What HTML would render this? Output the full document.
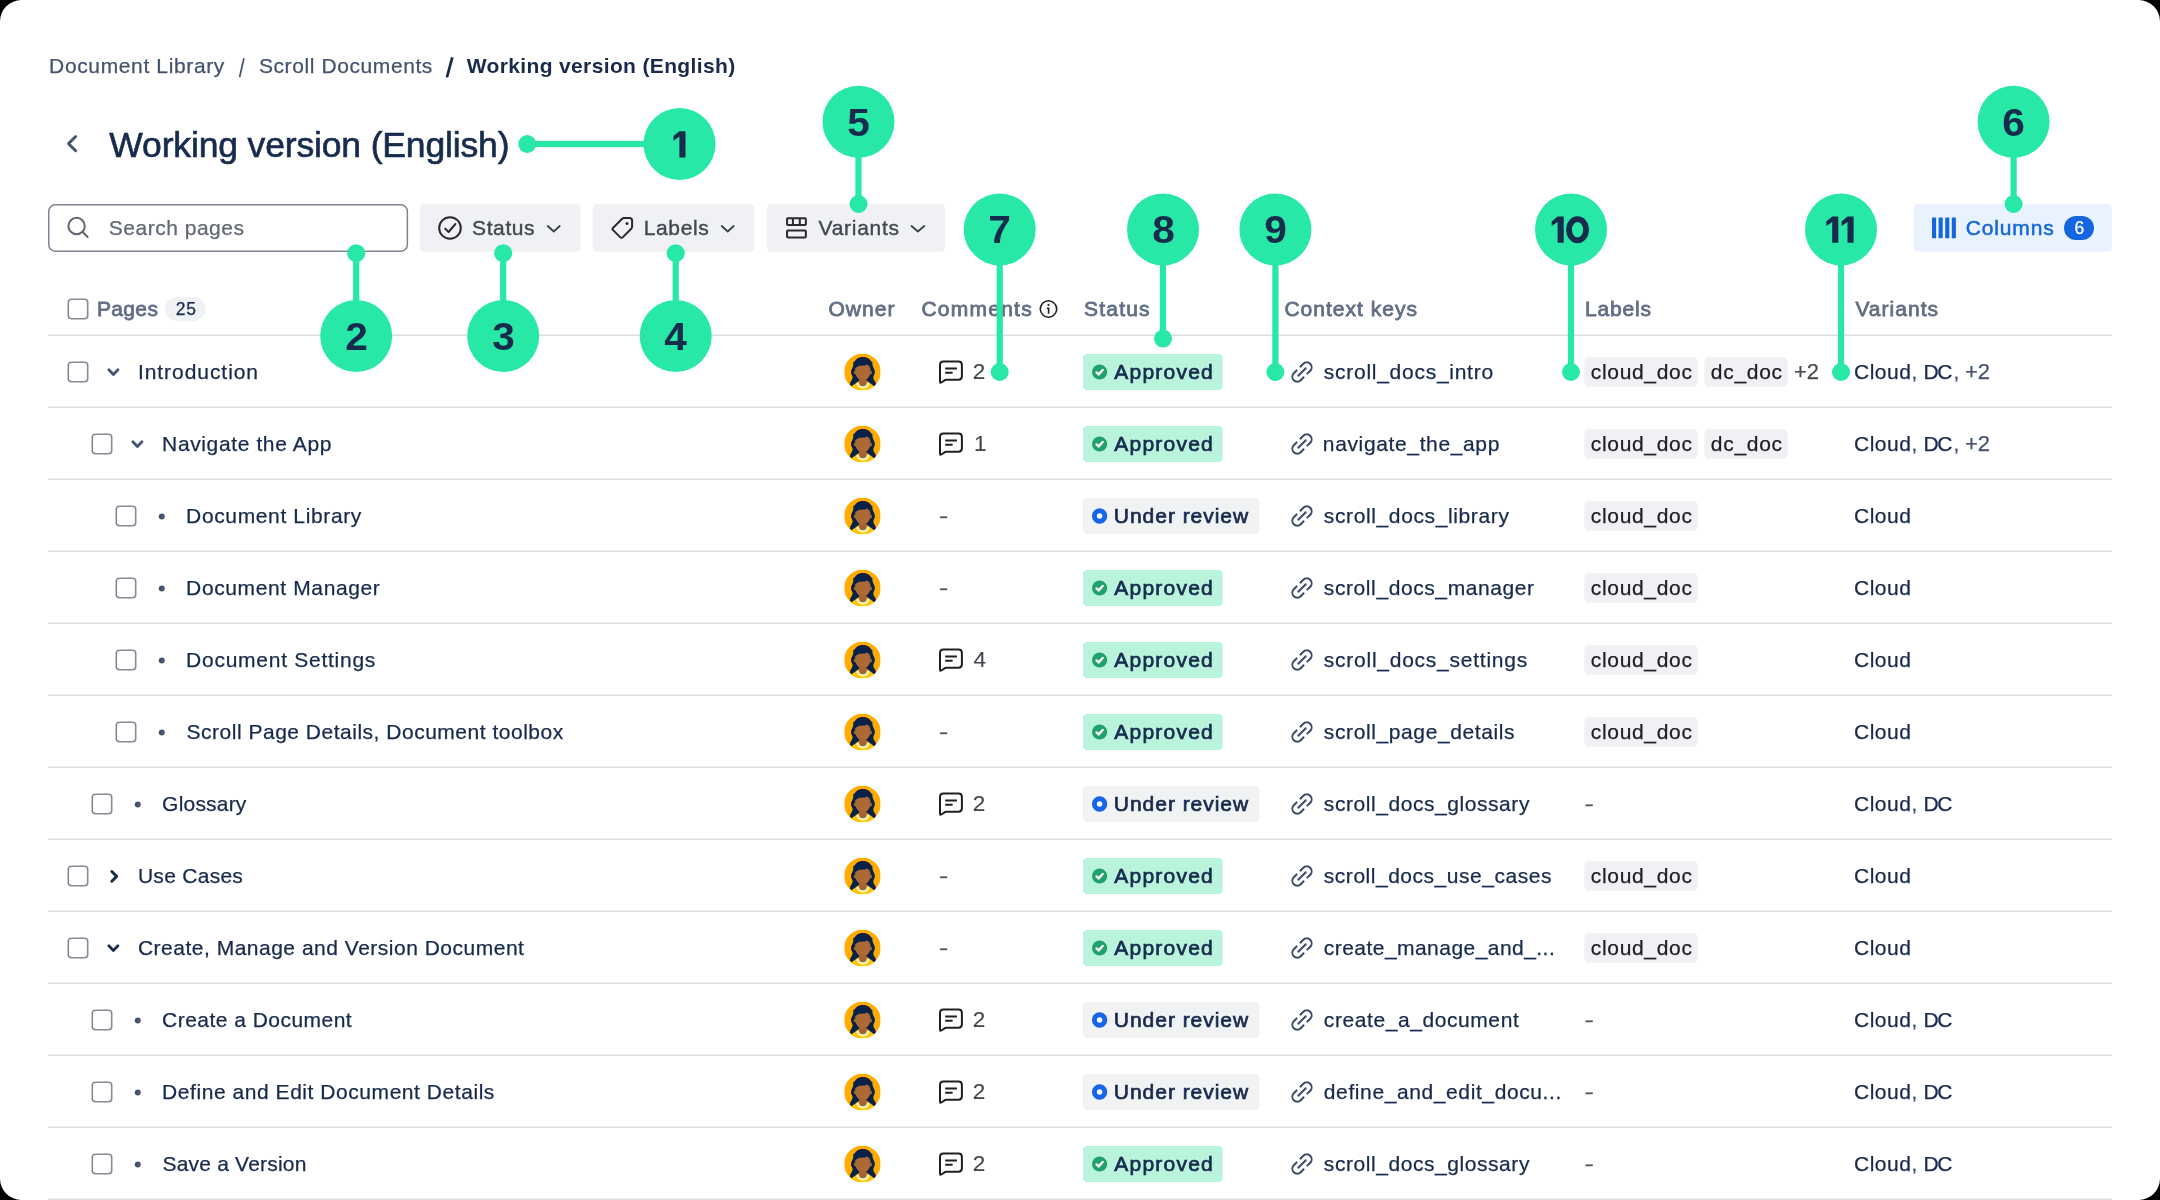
<!DOCTYPE html>
<html><head><meta charset="utf-8"><title>Working version (English)</title><style>
html,body{margin:0;padding:0;background:#000;}
body{width:2160px;height:1200px;overflow:hidden;position:relative;font-family:"Liberation Sans", sans-serif;}
#page{position:absolute;left:0;top:0;width:2160px;height:1200px;background:#fff;border-radius:21.5px;overflow:hidden;will-change:transform;}
svg.layer{position:absolute;left:0;top:0;}
.t{position:absolute;white-space:pre;font-family:"Liberation Sans", sans-serif;}
</style></head><body><div id="page">
<svg class="layer" width="2160" height="1200" viewBox="0 0 2160 1200">
<path d="M243.9 58.2 L239.6 77.2" stroke="#44546F" stroke-width="1.7" fill="none"/>
<path d="M452.3 57.4 L446.9 77.3" stroke="#172B4D" stroke-width="2.7" fill="none"/>
<path d="M75.6 136.5 L68.5 143.6 L75.6 150.7" fill="none" stroke="#44546F" stroke-width="2.9" stroke-linecap="round" stroke-linejoin="round"/>
<rect x="48.75" y="204.85" width="358.6" height="46.3" rx="6.5" fill="#fff" stroke="#7F8594" stroke-width="1.5"/>
<circle cx="76.6" cy="226" r="8.2" fill="none" stroke="#626873" stroke-width="2"/>
<path d="M82.6 232 L87.6 237" stroke="#626873" stroke-width="2" stroke-linecap="round"/>
<rect x="420.2" y="204.1" width="160.3" height="47.6" rx="4.5" fill="#F0F1F4"/>
<g transform="translate(436 214)"><circle cx="14" cy="14" r="10.8" fill="none" stroke="#292A2E" stroke-width="2"/><path d="M9.2 14.6 L12.6 18 L19.4 10" fill="none" stroke="#292A2E" stroke-width="2" stroke-linecap="round" stroke-linejoin="round"/></g>
<path d="M547.8 226 L553.75 231.5 L559.7 226" fill="none" stroke="#3A3D44" stroke-width="1.75" stroke-linecap="round" stroke-linejoin="round"/>
<rect x="592.7" y="204.1" width="161.6" height="47.6" rx="4.5" fill="#F0F1F4"/>
<path d="M612.9 228 L621.9 219 Q622.8 218.1 624.1 218.1 L629.6 218.1 Q632.1 218.1 632.1 220.6 L632.1 226.6 Q632.1 227.9 631.2 228.8 L622.9 237.1 Q621.5 238.5 620.1 237.1 L612.9 229.9 Q611.9 229 612.9 228 Z" fill="none" stroke="#292A2E" stroke-width="2" stroke-linejoin="round"/><circle cx="627" cy="223.4" r="1.5" fill="#292A2E"/>
<path d="M721.7 226 L727.7 231.5 L733.7 226" fill="none" stroke="#3A3D44" stroke-width="1.75" stroke-linecap="round" stroke-linejoin="round"/>
<rect x="766.7" y="204.1" width="178.3" height="47.6" rx="4.5" fill="#F0F1F4"/>
<g fill="none" stroke="#292A2E" stroke-width="2" stroke-linejoin="round"><rect x="787.06" y="218.25" width="18.8" height="6.8" rx="0.8"/><rect x="787.06" y="230.6" width="18.8" height="6.8" rx="0.8"/><path d="M792.9 218.25 V225.05 M799.8 218.25 V225.05"/></g>
<path d="M911.5 226 L917.9 231.5 L924.3 226" fill="none" stroke="#3A3D44" stroke-width="1.75" stroke-linecap="round" stroke-linejoin="round"/>
<rect x="1914.1" y="204.1" width="197.8" height="47.6" rx="4.5" fill="#E9F2FF"/>
<rect x="1932" y="217.6" width="4.1" height="20.7" rx="0.6" fill="#1465DF"/>
<rect x="1938.6" y="217.6" width="4.1" height="20.7" rx="0.6" fill="#1465DF"/>
<rect x="1945.2" y="217.6" width="4.1" height="20.7" rx="0.6" fill="#1465DF"/>
<rect x="1951.8" y="217.6" width="4.1" height="20.7" rx="0.6" fill="#1465DF"/>
<rect x="2064" y="216" width="30" height="24" rx="12" fill="#1465DF"/>
<rect x="68.3" y="299.3" width="19.4" height="19.4" rx="3.2" fill="#fff" stroke="#858A97" stroke-width="1.6"/>
<rect x="165" y="297.1" width="40.4" height="23.8" rx="11.9" fill="#F0F1F4"/>
<circle cx="1048.5" cy="309" r="8.2" fill="none" stroke="#1E1F21" stroke-width="1.6"/>
<circle cx="1048.5" cy="304.9" r="1.1" fill="#1E1F21"/>
<path d="M1046.9 308.3 H1048.6 V313.8" fill="none" stroke="#1E1F21" stroke-width="1.6"/>
<rect x="48" y="334" width="2064" height="1" fill="#ECEEF2"/>
<rect x="48" y="335" width="2064" height="1" fill="#DCDFE4"/>
<rect x="68.3" y="362.3" width="19.4" height="19.4" rx="3.2" fill="#fff" stroke="#858A97" stroke-width="1.6"/>
<path d="M108.85 369.7 L113.4 374.5 L117.95 369.7" fill="none" stroke="#44546F" stroke-width="2.7" stroke-linecap="round" stroke-linejoin="round"/>
<svg x="844.2" y="353.7" width="36.5" height="36.5" viewBox="0 0 36 36"><defs><clipPath id="c0"><circle cx="18" cy="18" r="18.1"/></clipPath></defs><g clip-path="url(#c0)"><rect width="36" height="36" fill="#FFAB00"/><path d="M4.5 36 C5.5 31.5 10.5 29.8 14 29.2 L23 29.2 C26.5 29.8 31.5 31.5 32.5 36 Z" fill="#FFC400"/><path d="M11.8 28.6 C12 32.4 15 34.3 18.5 34.3 C22 34.3 25 32.4 25.2 28.6 Z" fill="#FFF0B3"/><path d="M18.5 3.2 C23 3.2 26.7 5.8 27.2 9.4 C27.7 12.5 30.3 15 30.3 18.6 C30.3 20.5 28.7 21.8 28.7 23.2 C28.7 26 31.6 27.6 31.2 30.3 L29.9 32.3 C27.5 30 24.5 28.6 22.4 26.6 L14.6 26.6 C12.5 28.6 9.5 30 7.1 32.3 L5.8 30.3 C5.4 27.6 8.3 26 8.3 23.2 C8.3 21.8 6.7 20.5 6.7 18.6 C6.7 15 9.3 12.5 9.8 9.4 C10.3 5.8 14 3.2 18.5 3.2 Z" fill="#0A2147"/><path d="M14.9 23 L22 23 L22.2 28.6 C22.2 31 20.6 32.1 18.45 32.1 C16.3 32.1 14.7 31 14.7 28.6 Z" fill="#A0612F"/><ellipse cx="10.4" cy="18.8" rx="0.9" ry="1.4" fill="#B5712F"/><ellipse cx="26.5" cy="18.8" rx="0.9" ry="1.4" fill="#B5712F"/><path d="M10.7 15 C10.7 12 13 9.5 18.4 9.5 C23.7 9.5 26.1 12 26.1 15 L26.1 18 C26.1 20.6 23.4 26.3 18.4 26.3 C13.4 26.3 10.7 20.6 10.7 18 Z" fill="#AC6835"/><path d="M9 16.2 L10.7 14.9 C12 13.5 13.5 12.4 14.9 12 C17 11.5 19.5 11.8 21.4 11.3 L22.4 10.3 C24 11.5 25.6 13.5 26.1 15.4 L27.8 16.2 L27.8 8 L9 8 Z" fill="#0A2147"/></g></svg>
<g transform="translate(937 359.7)"><path d="M6.4 1.8 H21.5 Q24.9 1.8 24.9 5.2 V16.6 Q24.9 20 21.5 20 H9.4 Q8.6 20 8 20.4 L4.3 22.8 Q3 23.6 3 22.2 V5.2 Q3 1.8 6.4 1.8 Z" fill="none" stroke="#1E1F21" stroke-width="2" stroke-linejoin="round"/><path d="M8.2 8.7 H19.9 M8.2 13 H15.6" stroke="#1E1F21" stroke-width="2" fill="none"/></g>
<rect x="1083.05" y="353.95" width="139.55" height="36" rx="4.2" fill="#BAF3DB"/>
<circle cx="1099.6" cy="372" r="7.6" fill="#22A06B"/>
<path d="M1096.5 372.4 L1098.6 374.4 L1102.7 370" fill="none" stroke="#fff" stroke-width="2.3" stroke-linecap="round" stroke-linejoin="round"/>
<g transform="translate(1302 372)"><g transform="rotate(-45)" fill="none" stroke="#3B4A66" stroke-width="2"><path d="M-1.9 -4.9 H-6.7 A4.9 4.9 0 0 0 -6.7 4.9 H-1.9 M1.9 -4.9 H6.7 A4.9 4.9 0 0 1 6.7 4.9 H1.9 M-6 0 H6"/></g></g>
<rect x="1584.3" y="357" width="113.4" height="29.8" rx="4.5" fill="#F0F1F4"/>
<rect x="1704.3" y="357" width="83.4" height="29.8" rx="4.5" fill="#F0F1F4"/>
<rect x="48" y="406" width="2064" height="1" fill="#ECEEF2"/>
<rect x="48" y="407" width="2064" height="1" fill="#DCDFE4"/>
<rect x="92.3" y="434.3" width="19.4" height="19.4" rx="3.2" fill="#fff" stroke="#858A97" stroke-width="1.6"/>
<path d="M132.85 441.7 L137.4 446.5 L141.95 441.7" fill="none" stroke="#44546F" stroke-width="2.7" stroke-linecap="round" stroke-linejoin="round"/>
<svg x="844.2" y="425.7" width="36.5" height="36.5" viewBox="0 0 36 36"><defs><clipPath id="c1"><circle cx="18" cy="18" r="18.1"/></clipPath></defs><g clip-path="url(#c1)"><rect width="36" height="36" fill="#FFAB00"/><path d="M4.5 36 C5.5 31.5 10.5 29.8 14 29.2 L23 29.2 C26.5 29.8 31.5 31.5 32.5 36 Z" fill="#FFC400"/><path d="M11.8 28.6 C12 32.4 15 34.3 18.5 34.3 C22 34.3 25 32.4 25.2 28.6 Z" fill="#FFF0B3"/><path d="M18.5 3.2 C23 3.2 26.7 5.8 27.2 9.4 C27.7 12.5 30.3 15 30.3 18.6 C30.3 20.5 28.7 21.8 28.7 23.2 C28.7 26 31.6 27.6 31.2 30.3 L29.9 32.3 C27.5 30 24.5 28.6 22.4 26.6 L14.6 26.6 C12.5 28.6 9.5 30 7.1 32.3 L5.8 30.3 C5.4 27.6 8.3 26 8.3 23.2 C8.3 21.8 6.7 20.5 6.7 18.6 C6.7 15 9.3 12.5 9.8 9.4 C10.3 5.8 14 3.2 18.5 3.2 Z" fill="#0A2147"/><path d="M14.9 23 L22 23 L22.2 28.6 C22.2 31 20.6 32.1 18.45 32.1 C16.3 32.1 14.7 31 14.7 28.6 Z" fill="#A0612F"/><ellipse cx="10.4" cy="18.8" rx="0.9" ry="1.4" fill="#B5712F"/><ellipse cx="26.5" cy="18.8" rx="0.9" ry="1.4" fill="#B5712F"/><path d="M10.7 15 C10.7 12 13 9.5 18.4 9.5 C23.7 9.5 26.1 12 26.1 15 L26.1 18 C26.1 20.6 23.4 26.3 18.4 26.3 C13.4 26.3 10.7 20.6 10.7 18 Z" fill="#AC6835"/><path d="M9 16.2 L10.7 14.9 C12 13.5 13.5 12.4 14.9 12 C17 11.5 19.5 11.8 21.4 11.3 L22.4 10.3 C24 11.5 25.6 13.5 26.1 15.4 L27.8 16.2 L27.8 8 L9 8 Z" fill="#0A2147"/></g></svg>
<g transform="translate(937 431.7)"><path d="M6.4 1.8 H21.5 Q24.9 1.8 24.9 5.2 V16.6 Q24.9 20 21.5 20 H9.4 Q8.6 20 8 20.4 L4.3 22.8 Q3 23.6 3 22.2 V5.2 Q3 1.8 6.4 1.8 Z" fill="none" stroke="#1E1F21" stroke-width="2" stroke-linejoin="round"/><path d="M8.2 8.7 H19.9 M8.2 13 H15.6" stroke="#1E1F21" stroke-width="2" fill="none"/></g>
<rect x="1083.05" y="425.95" width="139.55" height="36" rx="4.2" fill="#BAF3DB"/>
<circle cx="1099.6" cy="444" r="7.6" fill="#22A06B"/>
<path d="M1096.5 444.4 L1098.6 446.4 L1102.7 442" fill="none" stroke="#fff" stroke-width="2.3" stroke-linecap="round" stroke-linejoin="round"/>
<g transform="translate(1302 444)"><g transform="rotate(-45)" fill="none" stroke="#3B4A66" stroke-width="2"><path d="M-1.9 -4.9 H-6.7 A4.9 4.9 0 0 0 -6.7 4.9 H-1.9 M1.9 -4.9 H6.7 A4.9 4.9 0 0 1 6.7 4.9 H1.9 M-6 0 H6"/></g></g>
<rect x="1584.3" y="429" width="113.4" height="29.8" rx="4.5" fill="#F0F1F4"/>
<rect x="1704.3" y="429" width="83.4" height="29.8" rx="4.5" fill="#F0F1F4"/>
<rect x="48" y="478" width="2064" height="1" fill="#ECEEF2"/>
<rect x="48" y="479" width="2064" height="1" fill="#DCDFE4"/>
<rect x="116.3" y="506.3" width="19.4" height="19.4" rx="3.2" fill="#fff" stroke="#858A97" stroke-width="1.6"/>
<circle cx="161.75" cy="516.5" r="3" fill="#44546F"/>
<svg x="844.2" y="497.7" width="36.5" height="36.5" viewBox="0 0 36 36"><defs><clipPath id="c2"><circle cx="18" cy="18" r="18.1"/></clipPath></defs><g clip-path="url(#c2)"><rect width="36" height="36" fill="#FFAB00"/><path d="M4.5 36 C5.5 31.5 10.5 29.8 14 29.2 L23 29.2 C26.5 29.8 31.5 31.5 32.5 36 Z" fill="#FFC400"/><path d="M11.8 28.6 C12 32.4 15 34.3 18.5 34.3 C22 34.3 25 32.4 25.2 28.6 Z" fill="#FFF0B3"/><path d="M18.5 3.2 C23 3.2 26.7 5.8 27.2 9.4 C27.7 12.5 30.3 15 30.3 18.6 C30.3 20.5 28.7 21.8 28.7 23.2 C28.7 26 31.6 27.6 31.2 30.3 L29.9 32.3 C27.5 30 24.5 28.6 22.4 26.6 L14.6 26.6 C12.5 28.6 9.5 30 7.1 32.3 L5.8 30.3 C5.4 27.6 8.3 26 8.3 23.2 C8.3 21.8 6.7 20.5 6.7 18.6 C6.7 15 9.3 12.5 9.8 9.4 C10.3 5.8 14 3.2 18.5 3.2 Z" fill="#0A2147"/><path d="M14.9 23 L22 23 L22.2 28.6 C22.2 31 20.6 32.1 18.45 32.1 C16.3 32.1 14.7 31 14.7 28.6 Z" fill="#A0612F"/><ellipse cx="10.4" cy="18.8" rx="0.9" ry="1.4" fill="#B5712F"/><ellipse cx="26.5" cy="18.8" rx="0.9" ry="1.4" fill="#B5712F"/><path d="M10.7 15 C10.7 12 13 9.5 18.4 9.5 C23.7 9.5 26.1 12 26.1 15 L26.1 18 C26.1 20.6 23.4 26.3 18.4 26.3 C13.4 26.3 10.7 20.6 10.7 18 Z" fill="#AC6835"/><path d="M9 16.2 L10.7 14.9 C12 13.5 13.5 12.4 14.9 12 C17 11.5 19.5 11.8 21.4 11.3 L22.4 10.3 C24 11.5 25.6 13.5 26.1 15.4 L27.8 16.2 L27.8 8 L9 8 Z" fill="#0A2147"/></g></svg>
<rect x="940" y="516.4" width="7.3" height="1.8" fill="#505359"/>
<rect x="1083.05" y="497.95" width="176.55" height="36" rx="4.2" fill="#F1F2F4"/>
<circle cx="1099.6" cy="516" r="5.2" fill="#fff" stroke="#1565E6" stroke-width="4.9"/>
<g transform="translate(1302 516)"><g transform="rotate(-45)" fill="none" stroke="#3B4A66" stroke-width="2"><path d="M-1.9 -4.9 H-6.7 A4.9 4.9 0 0 0 -6.7 4.9 H-1.9 M1.9 -4.9 H6.7 A4.9 4.9 0 0 1 6.7 4.9 H1.9 M-6 0 H6"/></g></g>
<rect x="1584.3" y="501" width="113.4" height="29.8" rx="4.5" fill="#F0F1F4"/>
<rect x="48" y="550" width="2064" height="1" fill="#ECEEF2"/>
<rect x="48" y="551" width="2064" height="1" fill="#DCDFE4"/>
<rect x="116.3" y="578.3" width="19.4" height="19.4" rx="3.2" fill="#fff" stroke="#858A97" stroke-width="1.6"/>
<circle cx="161.75" cy="588.5" r="3" fill="#44546F"/>
<svg x="844.2" y="569.7" width="36.5" height="36.5" viewBox="0 0 36 36"><defs><clipPath id="c3"><circle cx="18" cy="18" r="18.1"/></clipPath></defs><g clip-path="url(#c3)"><rect width="36" height="36" fill="#FFAB00"/><path d="M4.5 36 C5.5 31.5 10.5 29.8 14 29.2 L23 29.2 C26.5 29.8 31.5 31.5 32.5 36 Z" fill="#FFC400"/><path d="M11.8 28.6 C12 32.4 15 34.3 18.5 34.3 C22 34.3 25 32.4 25.2 28.6 Z" fill="#FFF0B3"/><path d="M18.5 3.2 C23 3.2 26.7 5.8 27.2 9.4 C27.7 12.5 30.3 15 30.3 18.6 C30.3 20.5 28.7 21.8 28.7 23.2 C28.7 26 31.6 27.6 31.2 30.3 L29.9 32.3 C27.5 30 24.5 28.6 22.4 26.6 L14.6 26.6 C12.5 28.6 9.5 30 7.1 32.3 L5.8 30.3 C5.4 27.6 8.3 26 8.3 23.2 C8.3 21.8 6.7 20.5 6.7 18.6 C6.7 15 9.3 12.5 9.8 9.4 C10.3 5.8 14 3.2 18.5 3.2 Z" fill="#0A2147"/><path d="M14.9 23 L22 23 L22.2 28.6 C22.2 31 20.6 32.1 18.45 32.1 C16.3 32.1 14.7 31 14.7 28.6 Z" fill="#A0612F"/><ellipse cx="10.4" cy="18.8" rx="0.9" ry="1.4" fill="#B5712F"/><ellipse cx="26.5" cy="18.8" rx="0.9" ry="1.4" fill="#B5712F"/><path d="M10.7 15 C10.7 12 13 9.5 18.4 9.5 C23.7 9.5 26.1 12 26.1 15 L26.1 18 C26.1 20.6 23.4 26.3 18.4 26.3 C13.4 26.3 10.7 20.6 10.7 18 Z" fill="#AC6835"/><path d="M9 16.2 L10.7 14.9 C12 13.5 13.5 12.4 14.9 12 C17 11.5 19.5 11.8 21.4 11.3 L22.4 10.3 C24 11.5 25.6 13.5 26.1 15.4 L27.8 16.2 L27.8 8 L9 8 Z" fill="#0A2147"/></g></svg>
<rect x="940" y="588.4" width="7.3" height="1.8" fill="#505359"/>
<rect x="1083.05" y="569.95" width="139.55" height="36" rx="4.2" fill="#BAF3DB"/>
<circle cx="1099.6" cy="588" r="7.6" fill="#22A06B"/>
<path d="M1096.5 588.4 L1098.6 590.4 L1102.7 586" fill="none" stroke="#fff" stroke-width="2.3" stroke-linecap="round" stroke-linejoin="round"/>
<g transform="translate(1302 588)"><g transform="rotate(-45)" fill="none" stroke="#3B4A66" stroke-width="2"><path d="M-1.9 -4.9 H-6.7 A4.9 4.9 0 0 0 -6.7 4.9 H-1.9 M1.9 -4.9 H6.7 A4.9 4.9 0 0 1 6.7 4.9 H1.9 M-6 0 H6"/></g></g>
<rect x="1584.3" y="573" width="113.4" height="29.8" rx="4.5" fill="#F0F1F4"/>
<rect x="48" y="622" width="2064" height="1" fill="#ECEEF2"/>
<rect x="48" y="623" width="2064" height="1" fill="#DCDFE4"/>
<rect x="116.3" y="650.3" width="19.4" height="19.4" rx="3.2" fill="#fff" stroke="#858A97" stroke-width="1.6"/>
<circle cx="161.75" cy="660.5" r="3" fill="#44546F"/>
<svg x="844.2" y="641.7" width="36.5" height="36.5" viewBox="0 0 36 36"><defs><clipPath id="c4"><circle cx="18" cy="18" r="18.1"/></clipPath></defs><g clip-path="url(#c4)"><rect width="36" height="36" fill="#FFAB00"/><path d="M4.5 36 C5.5 31.5 10.5 29.8 14 29.2 L23 29.2 C26.5 29.8 31.5 31.5 32.5 36 Z" fill="#FFC400"/><path d="M11.8 28.6 C12 32.4 15 34.3 18.5 34.3 C22 34.3 25 32.4 25.2 28.6 Z" fill="#FFF0B3"/><path d="M18.5 3.2 C23 3.2 26.7 5.8 27.2 9.4 C27.7 12.5 30.3 15 30.3 18.6 C30.3 20.5 28.7 21.8 28.7 23.2 C28.7 26 31.6 27.6 31.2 30.3 L29.9 32.3 C27.5 30 24.5 28.6 22.4 26.6 L14.6 26.6 C12.5 28.6 9.5 30 7.1 32.3 L5.8 30.3 C5.4 27.6 8.3 26 8.3 23.2 C8.3 21.8 6.7 20.5 6.7 18.6 C6.7 15 9.3 12.5 9.8 9.4 C10.3 5.8 14 3.2 18.5 3.2 Z" fill="#0A2147"/><path d="M14.9 23 L22 23 L22.2 28.6 C22.2 31 20.6 32.1 18.45 32.1 C16.3 32.1 14.7 31 14.7 28.6 Z" fill="#A0612F"/><ellipse cx="10.4" cy="18.8" rx="0.9" ry="1.4" fill="#B5712F"/><ellipse cx="26.5" cy="18.8" rx="0.9" ry="1.4" fill="#B5712F"/><path d="M10.7 15 C10.7 12 13 9.5 18.4 9.5 C23.7 9.5 26.1 12 26.1 15 L26.1 18 C26.1 20.6 23.4 26.3 18.4 26.3 C13.4 26.3 10.7 20.6 10.7 18 Z" fill="#AC6835"/><path d="M9 16.2 L10.7 14.9 C12 13.5 13.5 12.4 14.9 12 C17 11.5 19.5 11.8 21.4 11.3 L22.4 10.3 C24 11.5 25.6 13.5 26.1 15.4 L27.8 16.2 L27.8 8 L9 8 Z" fill="#0A2147"/></g></svg>
<g transform="translate(937 647.7)"><path d="M6.4 1.8 H21.5 Q24.9 1.8 24.9 5.2 V16.6 Q24.9 20 21.5 20 H9.4 Q8.6 20 8 20.4 L4.3 22.8 Q3 23.6 3 22.2 V5.2 Q3 1.8 6.4 1.8 Z" fill="none" stroke="#1E1F21" stroke-width="2" stroke-linejoin="round"/><path d="M8.2 8.7 H19.9 M8.2 13 H15.6" stroke="#1E1F21" stroke-width="2" fill="none"/></g>
<rect x="1083.05" y="641.95" width="139.55" height="36" rx="4.2" fill="#BAF3DB"/>
<circle cx="1099.6" cy="660" r="7.6" fill="#22A06B"/>
<path d="M1096.5 660.4 L1098.6 662.4 L1102.7 658" fill="none" stroke="#fff" stroke-width="2.3" stroke-linecap="round" stroke-linejoin="round"/>
<g transform="translate(1302 660)"><g transform="rotate(-45)" fill="none" stroke="#3B4A66" stroke-width="2"><path d="M-1.9 -4.9 H-6.7 A4.9 4.9 0 0 0 -6.7 4.9 H-1.9 M1.9 -4.9 H6.7 A4.9 4.9 0 0 1 6.7 4.9 H1.9 M-6 0 H6"/></g></g>
<rect x="1584.3" y="645" width="113.4" height="29.8" rx="4.5" fill="#F0F1F4"/>
<rect x="48" y="694" width="2064" height="1" fill="#ECEEF2"/>
<rect x="48" y="695" width="2064" height="1" fill="#DCDFE4"/>
<rect x="116.3" y="722.3" width="19.4" height="19.4" rx="3.2" fill="#fff" stroke="#858A97" stroke-width="1.6"/>
<circle cx="161.75" cy="732.5" r="3" fill="#44546F"/>
<svg x="844.2" y="713.7" width="36.5" height="36.5" viewBox="0 0 36 36"><defs><clipPath id="c5"><circle cx="18" cy="18" r="18.1"/></clipPath></defs><g clip-path="url(#c5)"><rect width="36" height="36" fill="#FFAB00"/><path d="M4.5 36 C5.5 31.5 10.5 29.8 14 29.2 L23 29.2 C26.5 29.8 31.5 31.5 32.5 36 Z" fill="#FFC400"/><path d="M11.8 28.6 C12 32.4 15 34.3 18.5 34.3 C22 34.3 25 32.4 25.2 28.6 Z" fill="#FFF0B3"/><path d="M18.5 3.2 C23 3.2 26.7 5.8 27.2 9.4 C27.7 12.5 30.3 15 30.3 18.6 C30.3 20.5 28.7 21.8 28.7 23.2 C28.7 26 31.6 27.6 31.2 30.3 L29.9 32.3 C27.5 30 24.5 28.6 22.4 26.6 L14.6 26.6 C12.5 28.6 9.5 30 7.1 32.3 L5.8 30.3 C5.4 27.6 8.3 26 8.3 23.2 C8.3 21.8 6.7 20.5 6.7 18.6 C6.7 15 9.3 12.5 9.8 9.4 C10.3 5.8 14 3.2 18.5 3.2 Z" fill="#0A2147"/><path d="M14.9 23 L22 23 L22.2 28.6 C22.2 31 20.6 32.1 18.45 32.1 C16.3 32.1 14.7 31 14.7 28.6 Z" fill="#A0612F"/><ellipse cx="10.4" cy="18.8" rx="0.9" ry="1.4" fill="#B5712F"/><ellipse cx="26.5" cy="18.8" rx="0.9" ry="1.4" fill="#B5712F"/><path d="M10.7 15 C10.7 12 13 9.5 18.4 9.5 C23.7 9.5 26.1 12 26.1 15 L26.1 18 C26.1 20.6 23.4 26.3 18.4 26.3 C13.4 26.3 10.7 20.6 10.7 18 Z" fill="#AC6835"/><path d="M9 16.2 L10.7 14.9 C12 13.5 13.5 12.4 14.9 12 C17 11.5 19.5 11.8 21.4 11.3 L22.4 10.3 C24 11.5 25.6 13.5 26.1 15.4 L27.8 16.2 L27.8 8 L9 8 Z" fill="#0A2147"/></g></svg>
<rect x="940" y="732.4" width="7.3" height="1.8" fill="#505359"/>
<rect x="1083.05" y="713.95" width="139.55" height="36" rx="4.2" fill="#BAF3DB"/>
<circle cx="1099.6" cy="732" r="7.6" fill="#22A06B"/>
<path d="M1096.5 732.4 L1098.6 734.4 L1102.7 730" fill="none" stroke="#fff" stroke-width="2.3" stroke-linecap="round" stroke-linejoin="round"/>
<g transform="translate(1302 732)"><g transform="rotate(-45)" fill="none" stroke="#3B4A66" stroke-width="2"><path d="M-1.9 -4.9 H-6.7 A4.9 4.9 0 0 0 -6.7 4.9 H-1.9 M1.9 -4.9 H6.7 A4.9 4.9 0 0 1 6.7 4.9 H1.9 M-6 0 H6"/></g></g>
<rect x="1584.3" y="717" width="113.4" height="29.8" rx="4.5" fill="#F0F1F4"/>
<rect x="48" y="766" width="2064" height="1" fill="#ECEEF2"/>
<rect x="48" y="767" width="2064" height="1" fill="#DCDFE4"/>
<rect x="92.3" y="794.3" width="19.4" height="19.4" rx="3.2" fill="#fff" stroke="#858A97" stroke-width="1.6"/>
<circle cx="137.75" cy="804.5" r="3" fill="#44546F"/>
<svg x="844.2" y="785.7" width="36.5" height="36.5" viewBox="0 0 36 36"><defs><clipPath id="c6"><circle cx="18" cy="18" r="18.1"/></clipPath></defs><g clip-path="url(#c6)"><rect width="36" height="36" fill="#FFAB00"/><path d="M4.5 36 C5.5 31.5 10.5 29.8 14 29.2 L23 29.2 C26.5 29.8 31.5 31.5 32.5 36 Z" fill="#FFC400"/><path d="M11.8 28.6 C12 32.4 15 34.3 18.5 34.3 C22 34.3 25 32.4 25.2 28.6 Z" fill="#FFF0B3"/><path d="M18.5 3.2 C23 3.2 26.7 5.8 27.2 9.4 C27.7 12.5 30.3 15 30.3 18.6 C30.3 20.5 28.7 21.8 28.7 23.2 C28.7 26 31.6 27.6 31.2 30.3 L29.9 32.3 C27.5 30 24.5 28.6 22.4 26.6 L14.6 26.6 C12.5 28.6 9.5 30 7.1 32.3 L5.8 30.3 C5.4 27.6 8.3 26 8.3 23.2 C8.3 21.8 6.7 20.5 6.7 18.6 C6.7 15 9.3 12.5 9.8 9.4 C10.3 5.8 14 3.2 18.5 3.2 Z" fill="#0A2147"/><path d="M14.9 23 L22 23 L22.2 28.6 C22.2 31 20.6 32.1 18.45 32.1 C16.3 32.1 14.7 31 14.7 28.6 Z" fill="#A0612F"/><ellipse cx="10.4" cy="18.8" rx="0.9" ry="1.4" fill="#B5712F"/><ellipse cx="26.5" cy="18.8" rx="0.9" ry="1.4" fill="#B5712F"/><path d="M10.7 15 C10.7 12 13 9.5 18.4 9.5 C23.7 9.5 26.1 12 26.1 15 L26.1 18 C26.1 20.6 23.4 26.3 18.4 26.3 C13.4 26.3 10.7 20.6 10.7 18 Z" fill="#AC6835"/><path d="M9 16.2 L10.7 14.9 C12 13.5 13.5 12.4 14.9 12 C17 11.5 19.5 11.8 21.4 11.3 L22.4 10.3 C24 11.5 25.6 13.5 26.1 15.4 L27.8 16.2 L27.8 8 L9 8 Z" fill="#0A2147"/></g></svg>
<g transform="translate(937 791.7)"><path d="M6.4 1.8 H21.5 Q24.9 1.8 24.9 5.2 V16.6 Q24.9 20 21.5 20 H9.4 Q8.6 20 8 20.4 L4.3 22.8 Q3 23.6 3 22.2 V5.2 Q3 1.8 6.4 1.8 Z" fill="none" stroke="#1E1F21" stroke-width="2" stroke-linejoin="round"/><path d="M8.2 8.7 H19.9 M8.2 13 H15.6" stroke="#1E1F21" stroke-width="2" fill="none"/></g>
<rect x="1083.05" y="785.95" width="176.55" height="36" rx="4.2" fill="#F1F2F4"/>
<circle cx="1099.6" cy="804" r="5.2" fill="#fff" stroke="#1565E6" stroke-width="4.9"/>
<g transform="translate(1302 804)"><g transform="rotate(-45)" fill="none" stroke="#3B4A66" stroke-width="2"><path d="M-1.9 -4.9 H-6.7 A4.9 4.9 0 0 0 -6.7 4.9 H-1.9 M1.9 -4.9 H6.7 A4.9 4.9 0 0 1 6.7 4.9 H1.9 M-6 0 H6"/></g></g>
<rect x="1585.5" y="804.4" width="7.3" height="1.8" fill="#505359"/>
<rect x="48" y="838" width="2064" height="1" fill="#ECEEF2"/>
<rect x="48" y="839" width="2064" height="1" fill="#DCDFE4"/>
<rect x="68.3" y="866.3" width="19.4" height="19.4" rx="3.2" fill="#fff" stroke="#858A97" stroke-width="1.6"/>
<path d="M111.8 871.5 L116.7 876.4 L111.8 881.3" fill="none" stroke="#172B4D" stroke-width="2.9" stroke-linecap="round" stroke-linejoin="round"/>
<svg x="844.2" y="857.7" width="36.5" height="36.5" viewBox="0 0 36 36"><defs><clipPath id="c7"><circle cx="18" cy="18" r="18.1"/></clipPath></defs><g clip-path="url(#c7)"><rect width="36" height="36" fill="#FFAB00"/><path d="M4.5 36 C5.5 31.5 10.5 29.8 14 29.2 L23 29.2 C26.5 29.8 31.5 31.5 32.5 36 Z" fill="#FFC400"/><path d="M11.8 28.6 C12 32.4 15 34.3 18.5 34.3 C22 34.3 25 32.4 25.2 28.6 Z" fill="#FFF0B3"/><path d="M18.5 3.2 C23 3.2 26.7 5.8 27.2 9.4 C27.7 12.5 30.3 15 30.3 18.6 C30.3 20.5 28.7 21.8 28.7 23.2 C28.7 26 31.6 27.6 31.2 30.3 L29.9 32.3 C27.5 30 24.5 28.6 22.4 26.6 L14.6 26.6 C12.5 28.6 9.5 30 7.1 32.3 L5.8 30.3 C5.4 27.6 8.3 26 8.3 23.2 C8.3 21.8 6.7 20.5 6.7 18.6 C6.7 15 9.3 12.5 9.8 9.4 C10.3 5.8 14 3.2 18.5 3.2 Z" fill="#0A2147"/><path d="M14.9 23 L22 23 L22.2 28.6 C22.2 31 20.6 32.1 18.45 32.1 C16.3 32.1 14.7 31 14.7 28.6 Z" fill="#A0612F"/><ellipse cx="10.4" cy="18.8" rx="0.9" ry="1.4" fill="#B5712F"/><ellipse cx="26.5" cy="18.8" rx="0.9" ry="1.4" fill="#B5712F"/><path d="M10.7 15 C10.7 12 13 9.5 18.4 9.5 C23.7 9.5 26.1 12 26.1 15 L26.1 18 C26.1 20.6 23.4 26.3 18.4 26.3 C13.4 26.3 10.7 20.6 10.7 18 Z" fill="#AC6835"/><path d="M9 16.2 L10.7 14.9 C12 13.5 13.5 12.4 14.9 12 C17 11.5 19.5 11.8 21.4 11.3 L22.4 10.3 C24 11.5 25.6 13.5 26.1 15.4 L27.8 16.2 L27.8 8 L9 8 Z" fill="#0A2147"/></g></svg>
<rect x="940" y="876.4" width="7.3" height="1.8" fill="#505359"/>
<rect x="1083.05" y="857.95" width="139.55" height="36" rx="4.2" fill="#BAF3DB"/>
<circle cx="1099.6" cy="876" r="7.6" fill="#22A06B"/>
<path d="M1096.5 876.4 L1098.6 878.4 L1102.7 874" fill="none" stroke="#fff" stroke-width="2.3" stroke-linecap="round" stroke-linejoin="round"/>
<g transform="translate(1302 876)"><g transform="rotate(-45)" fill="none" stroke="#3B4A66" stroke-width="2"><path d="M-1.9 -4.9 H-6.7 A4.9 4.9 0 0 0 -6.7 4.9 H-1.9 M1.9 -4.9 H6.7 A4.9 4.9 0 0 1 6.7 4.9 H1.9 M-6 0 H6"/></g></g>
<rect x="1584.3" y="861" width="113.4" height="29.8" rx="4.5" fill="#F0F1F4"/>
<rect x="48" y="910" width="2064" height="1" fill="#ECEEF2"/>
<rect x="48" y="911" width="2064" height="1" fill="#DCDFE4"/>
<rect x="68.3" y="938.3" width="19.4" height="19.4" rx="3.2" fill="#fff" stroke="#858A97" stroke-width="1.6"/>
<path d="M108.85 945.7 L113.4 950.5 L117.95 945.7" fill="none" stroke="#172B4D" stroke-width="2.7" stroke-linecap="round" stroke-linejoin="round"/>
<svg x="844.2" y="929.7" width="36.5" height="36.5" viewBox="0 0 36 36"><defs><clipPath id="c8"><circle cx="18" cy="18" r="18.1"/></clipPath></defs><g clip-path="url(#c8)"><rect width="36" height="36" fill="#FFAB00"/><path d="M4.5 36 C5.5 31.5 10.5 29.8 14 29.2 L23 29.2 C26.5 29.8 31.5 31.5 32.5 36 Z" fill="#FFC400"/><path d="M11.8 28.6 C12 32.4 15 34.3 18.5 34.3 C22 34.3 25 32.4 25.2 28.6 Z" fill="#FFF0B3"/><path d="M18.5 3.2 C23 3.2 26.7 5.8 27.2 9.4 C27.7 12.5 30.3 15 30.3 18.6 C30.3 20.5 28.7 21.8 28.7 23.2 C28.7 26 31.6 27.6 31.2 30.3 L29.9 32.3 C27.5 30 24.5 28.6 22.4 26.6 L14.6 26.6 C12.5 28.6 9.5 30 7.1 32.3 L5.8 30.3 C5.4 27.6 8.3 26 8.3 23.2 C8.3 21.8 6.7 20.5 6.7 18.6 C6.7 15 9.3 12.5 9.8 9.4 C10.3 5.8 14 3.2 18.5 3.2 Z" fill="#0A2147"/><path d="M14.9 23 L22 23 L22.2 28.6 C22.2 31 20.6 32.1 18.45 32.1 C16.3 32.1 14.7 31 14.7 28.6 Z" fill="#A0612F"/><ellipse cx="10.4" cy="18.8" rx="0.9" ry="1.4" fill="#B5712F"/><ellipse cx="26.5" cy="18.8" rx="0.9" ry="1.4" fill="#B5712F"/><path d="M10.7 15 C10.7 12 13 9.5 18.4 9.5 C23.7 9.5 26.1 12 26.1 15 L26.1 18 C26.1 20.6 23.4 26.3 18.4 26.3 C13.4 26.3 10.7 20.6 10.7 18 Z" fill="#AC6835"/><path d="M9 16.2 L10.7 14.9 C12 13.5 13.5 12.4 14.9 12 C17 11.5 19.5 11.8 21.4 11.3 L22.4 10.3 C24 11.5 25.6 13.5 26.1 15.4 L27.8 16.2 L27.8 8 L9 8 Z" fill="#0A2147"/></g></svg>
<rect x="940" y="948.4" width="7.3" height="1.8" fill="#505359"/>
<rect x="1083.05" y="929.95" width="139.55" height="36" rx="4.2" fill="#BAF3DB"/>
<circle cx="1099.6" cy="948" r="7.6" fill="#22A06B"/>
<path d="M1096.5 948.4 L1098.6 950.4 L1102.7 946" fill="none" stroke="#fff" stroke-width="2.3" stroke-linecap="round" stroke-linejoin="round"/>
<g transform="translate(1302 948)"><g transform="rotate(-45)" fill="none" stroke="#3B4A66" stroke-width="2"><path d="M-1.9 -4.9 H-6.7 A4.9 4.9 0 0 0 -6.7 4.9 H-1.9 M1.9 -4.9 H6.7 A4.9 4.9 0 0 1 6.7 4.9 H1.9 M-6 0 H6"/></g></g>
<rect x="1584.3" y="933" width="113.4" height="29.8" rx="4.5" fill="#F0F1F4"/>
<rect x="48" y="982" width="2064" height="1" fill="#ECEEF2"/>
<rect x="48" y="983" width="2064" height="1" fill="#DCDFE4"/>
<rect x="92.3" y="1010.3" width="19.4" height="19.4" rx="3.2" fill="#fff" stroke="#858A97" stroke-width="1.6"/>
<circle cx="137.75" cy="1020.5" r="3" fill="#44546F"/>
<svg x="844.2" y="1001.7" width="36.5" height="36.5" viewBox="0 0 36 36"><defs><clipPath id="c9"><circle cx="18" cy="18" r="18.1"/></clipPath></defs><g clip-path="url(#c9)"><rect width="36" height="36" fill="#FFAB00"/><path d="M4.5 36 C5.5 31.5 10.5 29.8 14 29.2 L23 29.2 C26.5 29.8 31.5 31.5 32.5 36 Z" fill="#FFC400"/><path d="M11.8 28.6 C12 32.4 15 34.3 18.5 34.3 C22 34.3 25 32.4 25.2 28.6 Z" fill="#FFF0B3"/><path d="M18.5 3.2 C23 3.2 26.7 5.8 27.2 9.4 C27.7 12.5 30.3 15 30.3 18.6 C30.3 20.5 28.7 21.8 28.7 23.2 C28.7 26 31.6 27.6 31.2 30.3 L29.9 32.3 C27.5 30 24.5 28.6 22.4 26.6 L14.6 26.6 C12.5 28.6 9.5 30 7.1 32.3 L5.8 30.3 C5.4 27.6 8.3 26 8.3 23.2 C8.3 21.8 6.7 20.5 6.7 18.6 C6.7 15 9.3 12.5 9.8 9.4 C10.3 5.8 14 3.2 18.5 3.2 Z" fill="#0A2147"/><path d="M14.9 23 L22 23 L22.2 28.6 C22.2 31 20.6 32.1 18.45 32.1 C16.3 32.1 14.7 31 14.7 28.6 Z" fill="#A0612F"/><ellipse cx="10.4" cy="18.8" rx="0.9" ry="1.4" fill="#B5712F"/><ellipse cx="26.5" cy="18.8" rx="0.9" ry="1.4" fill="#B5712F"/><path d="M10.7 15 C10.7 12 13 9.5 18.4 9.5 C23.7 9.5 26.1 12 26.1 15 L26.1 18 C26.1 20.6 23.4 26.3 18.4 26.3 C13.4 26.3 10.7 20.6 10.7 18 Z" fill="#AC6835"/><path d="M9 16.2 L10.7 14.9 C12 13.5 13.5 12.4 14.9 12 C17 11.5 19.5 11.8 21.4 11.3 L22.4 10.3 C24 11.5 25.6 13.5 26.1 15.4 L27.8 16.2 L27.8 8 L9 8 Z" fill="#0A2147"/></g></svg>
<g transform="translate(937 1007.7)"><path d="M6.4 1.8 H21.5 Q24.9 1.8 24.9 5.2 V16.6 Q24.9 20 21.5 20 H9.4 Q8.6 20 8 20.4 L4.3 22.8 Q3 23.6 3 22.2 V5.2 Q3 1.8 6.4 1.8 Z" fill="none" stroke="#1E1F21" stroke-width="2" stroke-linejoin="round"/><path d="M8.2 8.7 H19.9 M8.2 13 H15.6" stroke="#1E1F21" stroke-width="2" fill="none"/></g>
<rect x="1083.05" y="1001.95" width="176.55" height="36" rx="4.2" fill="#F1F2F4"/>
<circle cx="1099.6" cy="1020" r="5.2" fill="#fff" stroke="#1565E6" stroke-width="4.9"/>
<g transform="translate(1302 1020)"><g transform="rotate(-45)" fill="none" stroke="#3B4A66" stroke-width="2"><path d="M-1.9 -4.9 H-6.7 A4.9 4.9 0 0 0 -6.7 4.9 H-1.9 M1.9 -4.9 H6.7 A4.9 4.9 0 0 1 6.7 4.9 H1.9 M-6 0 H6"/></g></g>
<rect x="1585.5" y="1020.4" width="7.3" height="1.8" fill="#505359"/>
<rect x="48" y="1054" width="2064" height="1" fill="#ECEEF2"/>
<rect x="48" y="1055" width="2064" height="1" fill="#DCDFE4"/>
<rect x="92.3" y="1082.3" width="19.4" height="19.4" rx="3.2" fill="#fff" stroke="#858A97" stroke-width="1.6"/>
<circle cx="137.75" cy="1092.5" r="3" fill="#44546F"/>
<svg x="844.2" y="1073.7" width="36.5" height="36.5" viewBox="0 0 36 36"><defs><clipPath id="c10"><circle cx="18" cy="18" r="18.1"/></clipPath></defs><g clip-path="url(#c10)"><rect width="36" height="36" fill="#FFAB00"/><path d="M4.5 36 C5.5 31.5 10.5 29.8 14 29.2 L23 29.2 C26.5 29.8 31.5 31.5 32.5 36 Z" fill="#FFC400"/><path d="M11.8 28.6 C12 32.4 15 34.3 18.5 34.3 C22 34.3 25 32.4 25.2 28.6 Z" fill="#FFF0B3"/><path d="M18.5 3.2 C23 3.2 26.7 5.8 27.2 9.4 C27.7 12.5 30.3 15 30.3 18.6 C30.3 20.5 28.7 21.8 28.7 23.2 C28.7 26 31.6 27.6 31.2 30.3 L29.9 32.3 C27.5 30 24.5 28.6 22.4 26.6 L14.6 26.6 C12.5 28.6 9.5 30 7.1 32.3 L5.8 30.3 C5.4 27.6 8.3 26 8.3 23.2 C8.3 21.8 6.7 20.5 6.7 18.6 C6.7 15 9.3 12.5 9.8 9.4 C10.3 5.8 14 3.2 18.5 3.2 Z" fill="#0A2147"/><path d="M14.9 23 L22 23 L22.2 28.6 C22.2 31 20.6 32.1 18.45 32.1 C16.3 32.1 14.7 31 14.7 28.6 Z" fill="#A0612F"/><ellipse cx="10.4" cy="18.8" rx="0.9" ry="1.4" fill="#B5712F"/><ellipse cx="26.5" cy="18.8" rx="0.9" ry="1.4" fill="#B5712F"/><path d="M10.7 15 C10.7 12 13 9.5 18.4 9.5 C23.7 9.5 26.1 12 26.1 15 L26.1 18 C26.1 20.6 23.4 26.3 18.4 26.3 C13.4 26.3 10.7 20.6 10.7 18 Z" fill="#AC6835"/><path d="M9 16.2 L10.7 14.9 C12 13.5 13.5 12.4 14.9 12 C17 11.5 19.5 11.8 21.4 11.3 L22.4 10.3 C24 11.5 25.6 13.5 26.1 15.4 L27.8 16.2 L27.8 8 L9 8 Z" fill="#0A2147"/></g></svg>
<g transform="translate(937 1079.7)"><path d="M6.4 1.8 H21.5 Q24.9 1.8 24.9 5.2 V16.6 Q24.9 20 21.5 20 H9.4 Q8.6 20 8 20.4 L4.3 22.8 Q3 23.6 3 22.2 V5.2 Q3 1.8 6.4 1.8 Z" fill="none" stroke="#1E1F21" stroke-width="2" stroke-linejoin="round"/><path d="M8.2 8.7 H19.9 M8.2 13 H15.6" stroke="#1E1F21" stroke-width="2" fill="none"/></g>
<rect x="1083.05" y="1073.95" width="176.55" height="36" rx="4.2" fill="#F1F2F4"/>
<circle cx="1099.6" cy="1092" r="5.2" fill="#fff" stroke="#1565E6" stroke-width="4.9"/>
<g transform="translate(1302 1092)"><g transform="rotate(-45)" fill="none" stroke="#3B4A66" stroke-width="2"><path d="M-1.9 -4.9 H-6.7 A4.9 4.9 0 0 0 -6.7 4.9 H-1.9 M1.9 -4.9 H6.7 A4.9 4.9 0 0 1 6.7 4.9 H1.9 M-6 0 H6"/></g></g>
<rect x="1585.5" y="1092.4" width="7.3" height="1.8" fill="#505359"/>
<rect x="48" y="1126" width="2064" height="1" fill="#ECEEF2"/>
<rect x="48" y="1127" width="2064" height="1" fill="#DCDFE4"/>
<rect x="92.3" y="1154.3" width="19.4" height="19.4" rx="3.2" fill="#fff" stroke="#858A97" stroke-width="1.6"/>
<circle cx="137.75" cy="1164.5" r="3" fill="#44546F"/>
<svg x="844.2" y="1145.7" width="36.5" height="36.5" viewBox="0 0 36 36"><defs><clipPath id="c11"><circle cx="18" cy="18" r="18.1"/></clipPath></defs><g clip-path="url(#c11)"><rect width="36" height="36" fill="#FFAB00"/><path d="M4.5 36 C5.5 31.5 10.5 29.8 14 29.2 L23 29.2 C26.5 29.8 31.5 31.5 32.5 36 Z" fill="#FFC400"/><path d="M11.8 28.6 C12 32.4 15 34.3 18.5 34.3 C22 34.3 25 32.4 25.2 28.6 Z" fill="#FFF0B3"/><path d="M18.5 3.2 C23 3.2 26.7 5.8 27.2 9.4 C27.7 12.5 30.3 15 30.3 18.6 C30.3 20.5 28.7 21.8 28.7 23.2 C28.7 26 31.6 27.6 31.2 30.3 L29.9 32.3 C27.5 30 24.5 28.6 22.4 26.6 L14.6 26.6 C12.5 28.6 9.5 30 7.1 32.3 L5.8 30.3 C5.4 27.6 8.3 26 8.3 23.2 C8.3 21.8 6.7 20.5 6.7 18.6 C6.7 15 9.3 12.5 9.8 9.4 C10.3 5.8 14 3.2 18.5 3.2 Z" fill="#0A2147"/><path d="M14.9 23 L22 23 L22.2 28.6 C22.2 31 20.6 32.1 18.45 32.1 C16.3 32.1 14.7 31 14.7 28.6 Z" fill="#A0612F"/><ellipse cx="10.4" cy="18.8" rx="0.9" ry="1.4" fill="#B5712F"/><ellipse cx="26.5" cy="18.8" rx="0.9" ry="1.4" fill="#B5712F"/><path d="M10.7 15 C10.7 12 13 9.5 18.4 9.5 C23.7 9.5 26.1 12 26.1 15 L26.1 18 C26.1 20.6 23.4 26.3 18.4 26.3 C13.4 26.3 10.7 20.6 10.7 18 Z" fill="#AC6835"/><path d="M9 16.2 L10.7 14.9 C12 13.5 13.5 12.4 14.9 12 C17 11.5 19.5 11.8 21.4 11.3 L22.4 10.3 C24 11.5 25.6 13.5 26.1 15.4 L27.8 16.2 L27.8 8 L9 8 Z" fill="#0A2147"/></g></svg>
<g transform="translate(937 1151.7)"><path d="M6.4 1.8 H21.5 Q24.9 1.8 24.9 5.2 V16.6 Q24.9 20 21.5 20 H9.4 Q8.6 20 8 20.4 L4.3 22.8 Q3 23.6 3 22.2 V5.2 Q3 1.8 6.4 1.8 Z" fill="none" stroke="#1E1F21" stroke-width="2" stroke-linejoin="round"/><path d="M8.2 8.7 H19.9 M8.2 13 H15.6" stroke="#1E1F21" stroke-width="2" fill="none"/></g>
<rect x="1083.05" y="1145.95" width="139.55" height="36" rx="4.2" fill="#BAF3DB"/>
<circle cx="1099.6" cy="1164" r="7.6" fill="#22A06B"/>
<path d="M1096.5 1164.4 L1098.6 1166.4 L1102.7 1162" fill="none" stroke="#fff" stroke-width="2.3" stroke-linecap="round" stroke-linejoin="round"/>
<g transform="translate(1302 1164)"><g transform="rotate(-45)" fill="none" stroke="#3B4A66" stroke-width="2"><path d="M-1.9 -4.9 H-6.7 A4.9 4.9 0 0 0 -6.7 4.9 H-1.9 M1.9 -4.9 H6.7 A4.9 4.9 0 0 1 6.7 4.9 H1.9 M-6 0 H6"/></g></g>
<rect x="1585.5" y="1164.4" width="7.3" height="1.8" fill="#505359"/>
<rect x="48" y="1198" width="2064" height="1" fill="#ECEEF2"/>
<rect x="48" y="1199" width="2064" height="1" fill="#DCDFE4"/>
</svg>
<span class="t" style="left:49.12px;top:53.02px;font-size:21px;line-height:26px;color:#44546F;letter-spacing:0.634px;-webkit-text-stroke:0.25px #44546F;">Document Library</span>
<span class="t" style="left:258.93px;top:53.02px;font-size:21px;line-height:26px;color:#44546F;letter-spacing:0.593px;-webkit-text-stroke:0.25px #44546F;">Scroll Documents</span>
<span class="t" style="left:466.70px;top:53.02px;font-size:21px;line-height:26px;color:#172B4D;font-weight:700;letter-spacing:0.362px;">Working version (English)</span>
<span class="t" style="left:109.33px;top:122.70px;font-size:35.5px;line-height:44px;color:#172B4D;letter-spacing:-0.151px;-webkit-text-stroke:0.65px #172B4D;">Working version (English)</span>
<span class="t" style="left:108.72px;top:214.92px;font-size:21px;line-height:26px;color:#626873;letter-spacing:0.515px;-webkit-text-stroke:0.25px #626873;">Search pages</span>
<span class="t" style="left:472.09px;top:214.92px;font-size:21px;line-height:26px;color:#44474F;letter-spacing:0.597px;-webkit-text-stroke:0.38px #44474F;">Status</span>
<span class="t" style="left:643.69px;top:214.92px;font-size:21px;line-height:26px;color:#44474F;letter-spacing:0.648px;-webkit-text-stroke:0.38px #44474F;">Labels</span>
<span class="t" style="left:818.49px;top:214.92px;font-size:21px;line-height:26px;color:#44474F;letter-spacing:0.734px;-webkit-text-stroke:0.38px #44474F;">Variants</span>
<span class="t" style="left:1965.85px;top:215.02px;font-size:21px;line-height:26px;color:#1465DF;letter-spacing:0.823px;-webkit-text-stroke:0.5px #1465DF;">Columns</span>
<span class="t" style="left:2074.40px;top:216.84px;font-size:17.5px;line-height:22px;color:#fff;-webkit-text-stroke:0.25px #fff;">6</span>
<span class="t" style="left:96.90px;top:296.12px;font-size:21px;line-height:26px;color:#626F86;letter-spacing:0.364px;-webkit-text-stroke:0.8px #626F86;">Pages</span>
<span class="t" style="left:175.72px;top:297.84px;font-size:17.5px;line-height:22px;color:#172B4D;letter-spacing:0.717px;-webkit-text-stroke:0.25px #172B4D;">25</span>
<span class="t" style="left:828.40px;top:296.12px;font-size:21px;line-height:26px;color:#626F86;letter-spacing:1.085px;-webkit-text-stroke:0.8px #626F86;">Owner</span>
<span class="t" style="left:921.40px;top:296.12px;font-size:21px;line-height:26px;color:#626F86;letter-spacing:1.254px;-webkit-text-stroke:0.8px #626F86;">Comments</span>
<span class="t" style="left:1084.10px;top:296.12px;font-size:21px;line-height:26px;color:#626F86;letter-spacing:1.193px;-webkit-text-stroke:0.8px #626F86;">Status</span>
<span class="t" style="left:1284.40px;top:296.12px;font-size:21px;line-height:26px;color:#626F86;letter-spacing:1.029px;-webkit-text-stroke:0.8px #626F86;">Context keys</span>
<span class="t" style="left:1584.90px;top:296.12px;font-size:21px;line-height:26px;color:#626F86;letter-spacing:0.864px;-webkit-text-stroke:0.8px #626F86;">Labels</span>
<span class="t" style="left:1855.40px;top:296.12px;font-size:21px;line-height:26px;color:#626F86;letter-spacing:1.032px;-webkit-text-stroke:0.8px #626F86;">Variants</span>
<span class="t" style="left:137.93px;top:359.17px;font-size:21px;line-height:26px;color:#172B4D;letter-spacing:0.945px;-webkit-text-stroke:0.25px #172B4D;">Introduction</span>
<span class="t" style="left:972.78px;top:357.75px;font-size:22.5px;line-height:28px;color:#44474F;-webkit-text-stroke:0.15px #44474F;">2</span>
<span class="t" style="left:1114.35px;top:358.97px;font-size:21px;line-height:26px;color:#172B4D;letter-spacing:1.212px;-webkit-text-stroke:0.7px #172B4D;">Approved</span>
<span class="t" style="left:1323.83px;top:359.17px;font-size:21px;line-height:26px;color:#172B4D;letter-spacing:0.729px;-webkit-text-stroke:0.25px #172B4D;">scroll_docs_intro</span>
<span class="t" style="left:1590.83px;top:359.17px;font-size:21px;line-height:26px;color:#1E1F21;letter-spacing:0.664px;-webkit-text-stroke:0.25px #1E1F21;">cloud_doc</span>
<span class="t" style="left:1710.83px;top:359.17px;font-size:21px;line-height:26px;color:#1E1F21;letter-spacing:0.707px;-webkit-text-stroke:0.25px #1E1F21;">dc_doc</span>
<span class="t" style="left:1794.12px;top:357.93px;font-size:22px;line-height:28px;color:#4A4D56;letter-spacing:-0.198px;-webkit-text-stroke:0.25px #4A4D56;">+2</span>
<span class="t" style="left:1853.92px;top:359.17px;font-size:21px;line-height:26px;color:#172B4D;letter-spacing:0.565px;-webkit-text-stroke:0.25px #172B4D;">Cloud</span>
<span class="t" style="left:1911.42px;top:359.17px;font-size:21px;line-height:26px;color:#44546F;-webkit-text-stroke:0.25px #44546F;">,</span>
<span class="t" style="left:1923.42px;top:359.17px;font-size:21px;line-height:26px;color:#172B4D;letter-spacing:-1.416px;-webkit-text-stroke:0.25px #172B4D;">DC</span>
<span class="t" style="left:1953.42px;top:359.17px;font-size:21px;line-height:26px;color:#44546F;-webkit-text-stroke:0.25px #44546F;">,</span>
<span class="t" style="left:1965.12px;top:357.93px;font-size:22px;line-height:28px;color:#44546F;letter-spacing:-0.198px;-webkit-text-stroke:0.25px #44546F;">+2</span>
<span class="t" style="left:162.12px;top:431.17px;font-size:21px;line-height:26px;color:#172B4D;letter-spacing:0.621px;-webkit-text-stroke:0.25px #172B4D;">Navigate the App</span>
<span class="t" style="left:973.88px;top:429.75px;font-size:22.5px;line-height:28px;color:#44474F;-webkit-text-stroke:0.15px #44474F;">1</span>
<span class="t" style="left:1114.35px;top:430.97px;font-size:21px;line-height:26px;color:#172B4D;letter-spacing:1.212px;-webkit-text-stroke:0.7px #172B4D;">Approved</span>
<span class="t" style="left:1322.83px;top:431.17px;font-size:21px;line-height:26px;color:#172B4D;letter-spacing:0.636px;-webkit-text-stroke:0.25px #172B4D;">navigate_the_app</span>
<span class="t" style="left:1590.83px;top:431.17px;font-size:21px;line-height:26px;color:#1E1F21;letter-spacing:0.664px;-webkit-text-stroke:0.25px #1E1F21;">cloud_doc</span>
<span class="t" style="left:1710.83px;top:431.17px;font-size:21px;line-height:26px;color:#1E1F21;letter-spacing:0.707px;-webkit-text-stroke:0.25px #1E1F21;">dc_doc</span>
<span class="t" style="left:1853.92px;top:431.17px;font-size:21px;line-height:26px;color:#172B4D;letter-spacing:0.565px;-webkit-text-stroke:0.25px #172B4D;">Cloud</span>
<span class="t" style="left:1911.42px;top:431.17px;font-size:21px;line-height:26px;color:#44546F;-webkit-text-stroke:0.25px #44546F;">,</span>
<span class="t" style="left:1923.42px;top:431.17px;font-size:21px;line-height:26px;color:#172B4D;letter-spacing:-1.416px;-webkit-text-stroke:0.25px #172B4D;">DC</span>
<span class="t" style="left:1953.42px;top:431.17px;font-size:21px;line-height:26px;color:#44546F;-webkit-text-stroke:0.25px #44546F;">,</span>
<span class="t" style="left:1965.12px;top:429.93px;font-size:22px;line-height:28px;color:#44546F;letter-spacing:-0.198px;-webkit-text-stroke:0.25px #44546F;">+2</span>
<span class="t" style="left:186.12px;top:503.17px;font-size:21px;line-height:26px;color:#172B4D;letter-spacing:0.634px;-webkit-text-stroke:0.25px #172B4D;">Document Library</span>
<span class="t" style="left:1113.85px;top:502.97px;font-size:21px;line-height:26px;color:#172B4D;letter-spacing:0.959px;-webkit-text-stroke:0.7px #172B4D;">Under review</span>
<span class="t" style="left:1323.83px;top:503.17px;font-size:21px;line-height:26px;color:#172B4D;letter-spacing:0.620px;-webkit-text-stroke:0.25px #172B4D;">scroll_docs_library</span>
<span class="t" style="left:1590.83px;top:503.17px;font-size:21px;line-height:26px;color:#1E1F21;letter-spacing:0.664px;-webkit-text-stroke:0.25px #1E1F21;">cloud_doc</span>
<span class="t" style="left:1853.92px;top:503.17px;font-size:21px;line-height:26px;color:#172B4D;letter-spacing:0.565px;-webkit-text-stroke:0.25px #172B4D;">Cloud</span>
<span class="t" style="left:186.12px;top:575.17px;font-size:21px;line-height:26px;color:#172B4D;letter-spacing:0.621px;-webkit-text-stroke:0.25px #172B4D;">Document Manager</span>
<span class="t" style="left:1114.35px;top:574.97px;font-size:21px;line-height:26px;color:#172B4D;letter-spacing:1.212px;-webkit-text-stroke:0.7px #172B4D;">Approved</span>
<span class="t" style="left:1323.83px;top:575.17px;font-size:21px;line-height:26px;color:#172B4D;letter-spacing:0.591px;-webkit-text-stroke:0.25px #172B4D;">scroll_docs_manager</span>
<span class="t" style="left:1590.83px;top:575.17px;font-size:21px;line-height:26px;color:#1E1F21;letter-spacing:0.664px;-webkit-text-stroke:0.25px #1E1F21;">cloud_doc</span>
<span class="t" style="left:1853.92px;top:575.17px;font-size:21px;line-height:26px;color:#172B4D;letter-spacing:0.565px;-webkit-text-stroke:0.25px #172B4D;">Cloud</span>
<span class="t" style="left:186.12px;top:647.17px;font-size:21px;line-height:26px;color:#172B4D;letter-spacing:0.739px;-webkit-text-stroke:0.25px #172B4D;">Document Settings</span>
<span class="t" style="left:973.58px;top:645.75px;font-size:22.5px;line-height:28px;color:#44474F;-webkit-text-stroke:0.15px #44474F;">4</span>
<span class="t" style="left:1114.35px;top:646.97px;font-size:21px;line-height:26px;color:#172B4D;letter-spacing:1.212px;-webkit-text-stroke:0.7px #172B4D;">Approved</span>
<span class="t" style="left:1323.83px;top:647.17px;font-size:21px;line-height:26px;color:#172B4D;letter-spacing:0.750px;-webkit-text-stroke:0.25px #172B4D;">scroll_docs_settings</span>
<span class="t" style="left:1590.83px;top:647.17px;font-size:21px;line-height:26px;color:#1E1F21;letter-spacing:0.664px;-webkit-text-stroke:0.25px #1E1F21;">cloud_doc</span>
<span class="t" style="left:1853.92px;top:647.17px;font-size:21px;line-height:26px;color:#172B4D;letter-spacing:0.565px;-webkit-text-stroke:0.25px #172B4D;">Cloud</span>
<span class="t" style="left:186.53px;top:719.17px;font-size:21px;line-height:26px;color:#172B4D;letter-spacing:0.509px;-webkit-text-stroke:0.25px #172B4D;">Scroll Page Details, Document toolbox</span>
<span class="t" style="left:1114.35px;top:718.97px;font-size:21px;line-height:26px;color:#172B4D;letter-spacing:1.212px;-webkit-text-stroke:0.7px #172B4D;">Approved</span>
<span class="t" style="left:1323.83px;top:719.17px;font-size:21px;line-height:26px;color:#172B4D;letter-spacing:0.609px;-webkit-text-stroke:0.25px #172B4D;">scroll_page_details</span>
<span class="t" style="left:1590.83px;top:719.17px;font-size:21px;line-height:26px;color:#1E1F21;letter-spacing:0.664px;-webkit-text-stroke:0.25px #1E1F21;">cloud_doc</span>
<span class="t" style="left:1853.92px;top:719.17px;font-size:21px;line-height:26px;color:#172B4D;letter-spacing:0.565px;-webkit-text-stroke:0.25px #172B4D;">Cloud</span>
<span class="t" style="left:162.12px;top:791.17px;font-size:21px;line-height:26px;color:#172B4D;letter-spacing:0.200px;-webkit-text-stroke:0.25px #172B4D;">Glossary</span>
<span class="t" style="left:972.78px;top:789.75px;font-size:22.5px;line-height:28px;color:#44474F;-webkit-text-stroke:0.15px #44474F;">2</span>
<span class="t" style="left:1113.85px;top:790.97px;font-size:21px;line-height:26px;color:#172B4D;letter-spacing:0.959px;-webkit-text-stroke:0.7px #172B4D;">Under review</span>
<span class="t" style="left:1323.83px;top:791.17px;font-size:21px;line-height:26px;color:#172B4D;letter-spacing:0.560px;-webkit-text-stroke:0.25px #172B4D;">scroll_docs_glossary</span>
<span class="t" style="left:1853.92px;top:791.17px;font-size:21px;line-height:26px;color:#172B4D;letter-spacing:0.565px;-webkit-text-stroke:0.25px #172B4D;">Cloud</span>
<span class="t" style="left:1911.42px;top:791.17px;font-size:21px;line-height:26px;color:#44546F;-webkit-text-stroke:0.25px #44546F;">,</span>
<span class="t" style="left:1923.42px;top:791.17px;font-size:21px;line-height:26px;color:#172B4D;letter-spacing:-1.416px;-webkit-text-stroke:0.25px #172B4D;">DC</span>
<span class="t" style="left:137.93px;top:863.17px;font-size:21px;line-height:26px;color:#172B4D;letter-spacing:0.281px;-webkit-text-stroke:0.25px #172B4D;">Use Cases</span>
<span class="t" style="left:1114.35px;top:862.97px;font-size:21px;line-height:26px;color:#172B4D;letter-spacing:1.212px;-webkit-text-stroke:0.7px #172B4D;">Approved</span>
<span class="t" style="left:1323.83px;top:863.17px;font-size:21px;line-height:26px;color:#172B4D;letter-spacing:0.522px;-webkit-text-stroke:0.25px #172B4D;">scroll_docs_use_cases</span>
<span class="t" style="left:1590.83px;top:863.17px;font-size:21px;line-height:26px;color:#1E1F21;letter-spacing:0.664px;-webkit-text-stroke:0.25px #1E1F21;">cloud_doc</span>
<span class="t" style="left:1853.92px;top:863.17px;font-size:21px;line-height:26px;color:#172B4D;letter-spacing:0.565px;-webkit-text-stroke:0.25px #172B4D;">Cloud</span>
<span class="t" style="left:137.93px;top:935.17px;font-size:21px;line-height:26px;color:#172B4D;letter-spacing:0.503px;-webkit-text-stroke:0.25px #172B4D;">Create, Manage and Version Document</span>
<span class="t" style="left:1114.35px;top:934.97px;font-size:21px;line-height:26px;color:#172B4D;letter-spacing:1.212px;-webkit-text-stroke:0.7px #172B4D;">Approved</span>
<span class="t" style="left:1323.83px;top:935.17px;font-size:21px;line-height:26px;color:#172B4D;letter-spacing:0.453px;-webkit-text-stroke:0.25px #172B4D;">create_manage_and_...</span>
<span class="t" style="left:1590.83px;top:935.17px;font-size:21px;line-height:26px;color:#1E1F21;letter-spacing:0.664px;-webkit-text-stroke:0.25px #1E1F21;">cloud_doc</span>
<span class="t" style="left:1853.92px;top:935.17px;font-size:21px;line-height:26px;color:#172B4D;letter-spacing:0.565px;-webkit-text-stroke:0.25px #172B4D;">Cloud</span>
<span class="t" style="left:162.12px;top:1007.17px;font-size:21px;line-height:26px;color:#172B4D;letter-spacing:0.468px;-webkit-text-stroke:0.25px #172B4D;">Create a Document</span>
<span class="t" style="left:972.78px;top:1005.75px;font-size:22.5px;line-height:28px;color:#44474F;-webkit-text-stroke:0.15px #44474F;">2</span>
<span class="t" style="left:1113.85px;top:1006.97px;font-size:21px;line-height:26px;color:#172B4D;letter-spacing:0.959px;-webkit-text-stroke:0.7px #172B4D;">Under review</span>
<span class="t" style="left:1323.83px;top:1007.17px;font-size:21px;line-height:26px;color:#172B4D;letter-spacing:0.579px;-webkit-text-stroke:0.25px #172B4D;">create_a_document</span>
<span class="t" style="left:1853.92px;top:1007.17px;font-size:21px;line-height:26px;color:#172B4D;letter-spacing:0.565px;-webkit-text-stroke:0.25px #172B4D;">Cloud</span>
<span class="t" style="left:1911.42px;top:1007.17px;font-size:21px;line-height:26px;color:#44546F;-webkit-text-stroke:0.25px #44546F;">,</span>
<span class="t" style="left:1923.42px;top:1007.17px;font-size:21px;line-height:26px;color:#172B4D;letter-spacing:-1.416px;-webkit-text-stroke:0.25px #172B4D;">DC</span>
<span class="t" style="left:162.12px;top:1079.17px;font-size:21px;line-height:26px;color:#172B4D;letter-spacing:0.551px;-webkit-text-stroke:0.25px #172B4D;">Define and Edit Document Details</span>
<span class="t" style="left:972.78px;top:1077.75px;font-size:22.5px;line-height:28px;color:#44474F;-webkit-text-stroke:0.15px #44474F;">2</span>
<span class="t" style="left:1113.85px;top:1078.97px;font-size:21px;line-height:26px;color:#172B4D;letter-spacing:0.959px;-webkit-text-stroke:0.7px #172B4D;">Under review</span>
<span class="t" style="left:1323.83px;top:1079.17px;font-size:21px;line-height:26px;color:#172B4D;letter-spacing:0.604px;-webkit-text-stroke:0.25px #172B4D;">define_and_edit_docu...</span>
<span class="t" style="left:1853.92px;top:1079.17px;font-size:21px;line-height:26px;color:#172B4D;letter-spacing:0.565px;-webkit-text-stroke:0.25px #172B4D;">Cloud</span>
<span class="t" style="left:1911.42px;top:1079.17px;font-size:21px;line-height:26px;color:#44546F;-webkit-text-stroke:0.25px #44546F;">,</span>
<span class="t" style="left:1923.42px;top:1079.17px;font-size:21px;line-height:26px;color:#172B4D;letter-spacing:-1.416px;-webkit-text-stroke:0.25px #172B4D;">DC</span>
<span class="t" style="left:162.53px;top:1151.17px;font-size:21px;line-height:26px;color:#172B4D;letter-spacing:0.198px;-webkit-text-stroke:0.25px #172B4D;">Save a Version</span>
<span class="t" style="left:972.78px;top:1149.75px;font-size:22.5px;line-height:28px;color:#44474F;-webkit-text-stroke:0.15px #44474F;">2</span>
<span class="t" style="left:1114.35px;top:1150.97px;font-size:21px;line-height:26px;color:#172B4D;letter-spacing:1.212px;-webkit-text-stroke:0.7px #172B4D;">Approved</span>
<span class="t" style="left:1323.83px;top:1151.17px;font-size:21px;line-height:26px;color:#172B4D;letter-spacing:0.560px;-webkit-text-stroke:0.25px #172B4D;">scroll_docs_glossary</span>
<span class="t" style="left:1853.92px;top:1151.17px;font-size:21px;line-height:26px;color:#172B4D;letter-spacing:0.565px;-webkit-text-stroke:0.25px #172B4D;">Cloud</span>
<span class="t" style="left:1911.42px;top:1151.17px;font-size:21px;line-height:26px;color:#44546F;-webkit-text-stroke:0.25px #44546F;">,</span>
<span class="t" style="left:1923.42px;top:1151.17px;font-size:21px;line-height:26px;color:#172B4D;letter-spacing:-1.416px;-webkit-text-stroke:0.25px #172B4D;">DC</span>
<svg class="layer" width="2160" height="1200" viewBox="0 0 2160 1200">
<rect x="527.3" y="140.9" width="152.2" height="6.2" fill="#27E8A7"/>
<circle cx="527.3" cy="144" r="9" fill="#27E8A7"/>
<circle cx="679.5" cy="144" r="36" fill="#27E8A7"/>
<path d="M679.4 131.3 H685.5 V157.5 H679.4 V136.6 L673.5 140.7 V136.1 Z" fill="#172B4D"/>
<rect x="353.1" y="253.2" width="6.2" height="82.8" fill="#27E8A7"/>
<circle cx="356.2" cy="253.2" r="9" fill="#27E8A7"/>
<circle cx="356.2" cy="336" r="36" fill="#27E8A7"/>
<rect x="500.1" y="253.2" width="6.2" height="82.8" fill="#27E8A7"/>
<circle cx="503.2" cy="253.2" r="9" fill="#27E8A7"/>
<circle cx="503.2" cy="336" r="36" fill="#27E8A7"/>
<rect x="672.6" y="253.2" width="6.2" height="82.8" fill="#27E8A7"/>
<circle cx="675.7" cy="253.2" r="9" fill="#27E8A7"/>
<circle cx="675.7" cy="336" r="36" fill="#27E8A7"/>
<rect x="855.4" y="121.7" width="6.2" height="82.3" fill="#27E8A7"/>
<circle cx="858.5" cy="204" r="9" fill="#27E8A7"/>
<circle cx="858.5" cy="121.7" r="36" fill="#27E8A7"/>
<rect x="2010.5" y="121.7" width="6.2" height="82.3" fill="#27E8A7"/>
<circle cx="2013.6" cy="204" r="9" fill="#27E8A7"/>
<circle cx="2013.6" cy="121.7" r="36" fill="#27E8A7"/>
<rect x="996.6" y="229.4" width="6.2" height="142.6" fill="#27E8A7"/>
<circle cx="999.7" cy="372" r="9" fill="#27E8A7"/>
<circle cx="999.7" cy="229.4" r="36" fill="#27E8A7"/>
<rect x="1159.9" y="229.4" width="6.2" height="109.2" fill="#27E8A7"/>
<circle cx="1163" cy="338.6" r="9" fill="#27E8A7"/>
<circle cx="1163" cy="229.4" r="36" fill="#27E8A7"/>
<rect x="1272.3" y="229.4" width="6.2" height="142.6" fill="#27E8A7"/>
<circle cx="1275.4" cy="372" r="9" fill="#27E8A7"/>
<circle cx="1275.4" cy="229.4" r="36" fill="#27E8A7"/>
<rect x="1567.9" y="229.4" width="6.2" height="142.6" fill="#27E8A7"/>
<circle cx="1571" cy="372" r="9" fill="#27E8A7"/>
<circle cx="1571" cy="229.4" r="36" fill="#27E8A7"/>
<path d="M1557.6 216.6 H1563.7 V242.8 H1557.6 V221.9 L1551.7 226 V221.4 Z" fill="#172B4D"/>
<ellipse cx="1577.55" cy="229.7" rx="8.5" ry="10.6" fill="none" stroke="#172B4D" stroke-width="5.8"/>
<rect x="1837.9" y="229.4" width="6.2" height="142.6" fill="#27E8A7"/>
<circle cx="1841" cy="372" r="9" fill="#27E8A7"/>
<circle cx="1841" cy="229.4" r="36" fill="#27E8A7"/>
<path d="M1832.2 216.6 H1838.3 V242.8 H1832.2 V221.9 L1826.3 226 V221.4 Z" fill="#172B4D"/>
<path d="M1847.5 216.6 H1853.6 V242.8 H1847.5 V221.9 L1841.6 226 V221.4 Z" fill="#172B4D"/>
</svg>
<span class="t" style="left:345.70px;top:313.03px;font-size:38px;line-height:48px;color:#172B4D;font-weight:700;transform:scaleX(1.07);transform-origin:10.50px 50%;">2</span>
<span class="t" style="left:493.20px;top:313.03px;font-size:38px;line-height:48px;color:#172B4D;font-weight:700;transform:scaleX(1.07);transform-origin:10.00px 50%;">3</span>
<span class="t" style="left:665.20px;top:313.03px;font-size:38px;line-height:48px;color:#172B4D;font-weight:700;transform:scaleX(1.07);transform-origin:10.50px 50%;">4</span>
<span class="t" style="left:847.50px;top:98.73px;font-size:38px;line-height:48px;color:#172B4D;font-weight:700;transform:scaleX(1.07);transform-origin:11.00px 50%;">5</span>
<span class="t" style="left:2003.10px;top:98.73px;font-size:38px;line-height:48px;color:#172B4D;font-weight:700;transform:scaleX(1.07);transform-origin:10.50px 50%;">6</span>
<span class="t" style="left:989.20px;top:206.43px;font-size:38px;line-height:48px;color:#172B4D;font-weight:700;transform:scaleX(1.07);transform-origin:10.50px 50%;">7</span>
<span class="t" style="left:1152.50px;top:206.43px;font-size:38px;line-height:48px;color:#172B4D;font-weight:700;transform:scaleX(1.07);transform-origin:10.50px 50%;">8</span>
<span class="t" style="left:1264.90px;top:206.43px;font-size:38px;line-height:48px;color:#172B4D;font-weight:700;transform:scaleX(1.07);transform-origin:10.50px 50%;">9</span>
</div></body></html>
